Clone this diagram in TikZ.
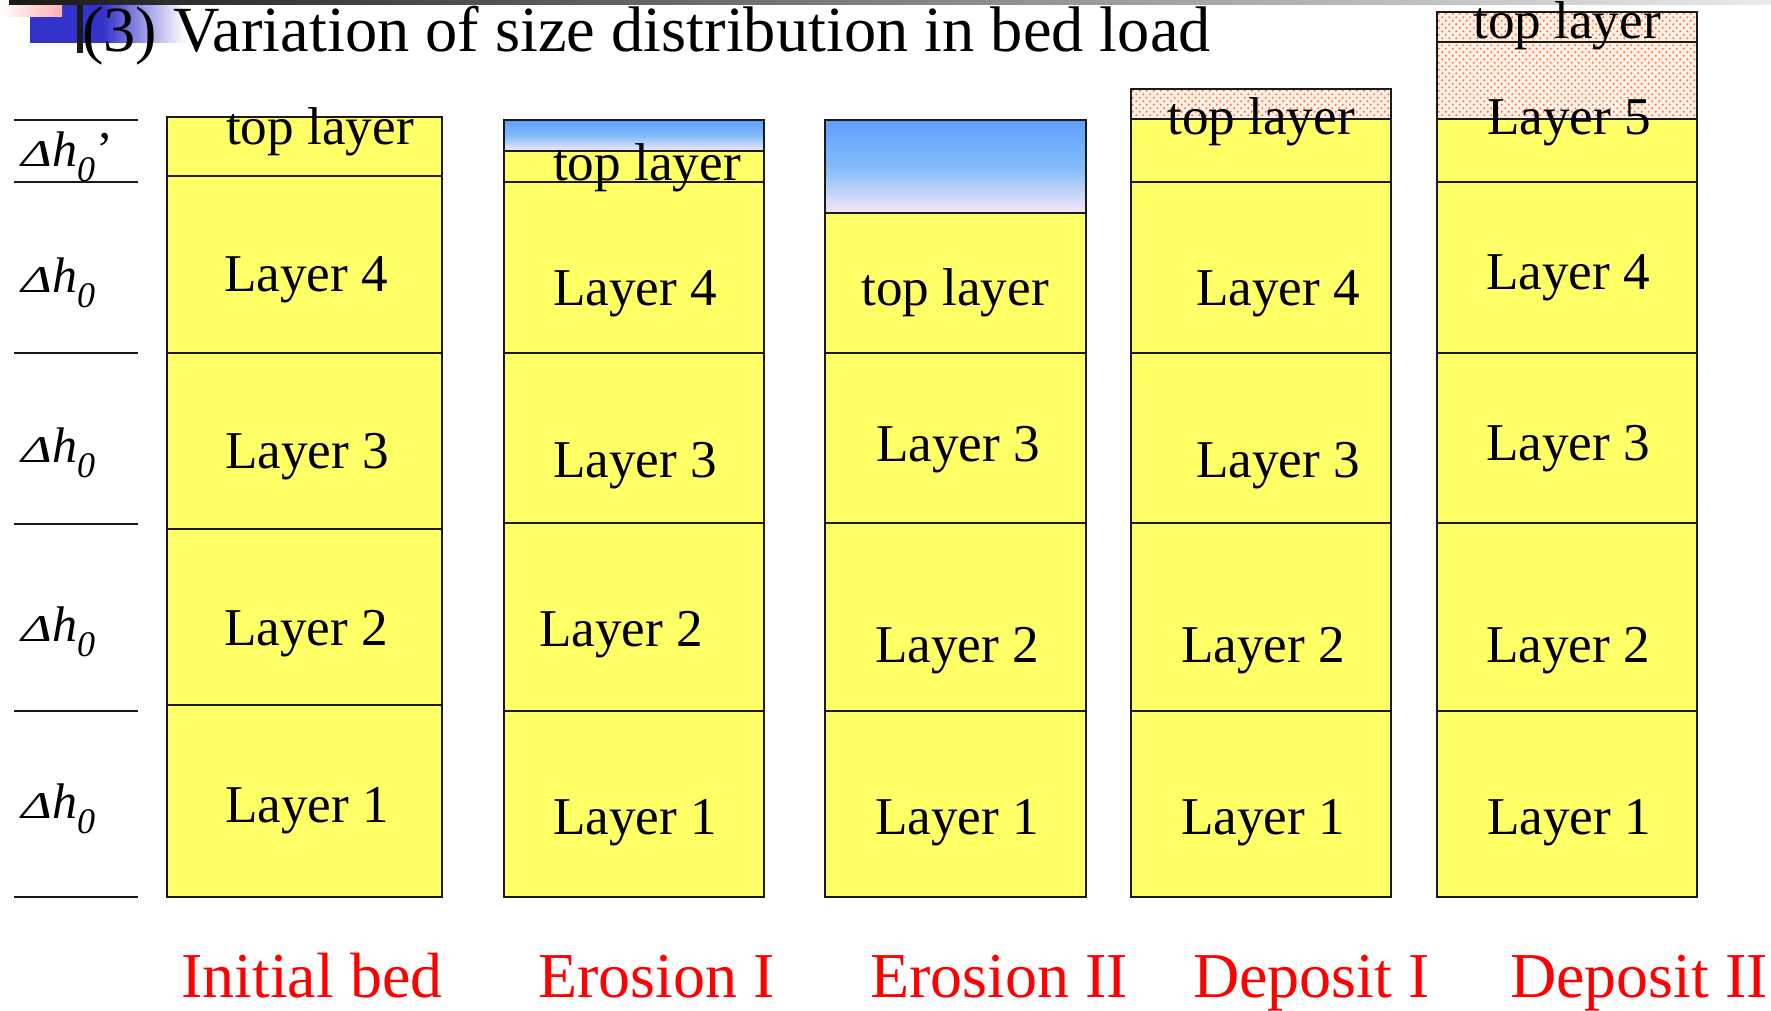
\documentclass[tikz,border=0pt]{standalone}
\usepackage{fontspec}
\setmainfont{Liberation Serif}
\definecolor{sand}{RGB}{255,255,102}
\definecolor{edge}{RGB}{26,26,26}
\definecolor{waterTop}{RGB}{96,158,255}
\definecolor{waterMid}{RGB}{128,188,250}
\definecolor{waterBot}{RGB}{246,232,246}
\definecolor{dotbgc}{RGB}{255,240,230}
\definecolor{dotfgc}{RGB}{255,120,56}
\definecolor{barblue}{RGB}{51,51,204}
\definecolor{barpink}{RGB}{255,176,176}
\definecolor{captionred}{RGB}{255,0,0}

\tikzset{
  sandfill/.style={fill=sand},
  frame/.style={draw=edge, line width=2pt},
  seam/.style={draw=edge, line width=1.5pt},
  scale line/.style={draw=edge, line width=1.8pt},
  water/.style={top color=waterTop, bottom color=waterBot, middle color=waterMid},
  dotbg/.style={fill=dotbgc},
  dotfg/.style={fill=dotfgc},
  layertext/.style={font=\fontsize{53.2}{53.2}\selectfont, anchor=base west, inner sep=0pt},
  caption/.style={font=\fontsize{64}{64}\selectfont, text=captionred, anchor=base west, inner sep=0pt},
  dhtext/.style={anchor=base west, inner sep=0pt},
}

% field of staggered orange dots inside a rectangle
\newcommand\dotfield[4]{%
  \begin{scope}
    \clip (#1,#2) rectangle (#3,#4);
    \fill[dotbg] (#1,#2) rectangle (#3,#4);
    \pgfmathtruncatemacro\nrow{((#4)-(#2))/3.5+1}
    \pgfmathtruncatemacro\ncol{((#3)-(#1))/7+1}
    \foreach \r in {0,...,\nrow}{
      \foreach \c in {0,...,\ncol}{
        \pgfmathsetmacro\dx{#1+1.75+7*\c+mod(\r,2)*3.5}
        \pgfmathsetmacro\dy{#2+1.75+3.5*\r}
        \fill[dotfg] (\dx,\dy) circle[radius=1.1];
      }
    }
  \end{scope}}

% thickness label: Delta h with subscript 0
\newcommand\dhlabel{{\itshape\fontsize{42}{42}\selectfont\scalebox{1.25}[0.9]{Δ}\fontsize{50}{50}\selectfont h\raisebox{-15pt}{\fontsize{36}{36}\selectfont 0}}}

\begin{document}
\begin{tikzpicture}[x=1pt,y=-1pt]
\useasboundingbox (0,0) rectangle (1771,1011);
\fill[white] (0,0) rectangle (1771,1011);

% ---- heading ornament ----
\fill[barblue] (30,5) rectangle (103,43);
\shade[left color=barblue, right color=white] (103,5) rectangle (185,43);
\shade[left color=white, right color=barpink] (0,0) rectangle (62,17);
\shade[left color=black!90, right color=black!8] (9,0) rectangle (1771,5);
\fill[edge] (77,5) rectangle (83,53);
\node[anchor=base west, inner sep=0pt, font=\fontsize{64.4}{64.4}\selectfont] (title) at (82,52)
  {(3) Variation of size distribution in bed load};

% ---- thickness scale on the left ----
\foreach \yy [count=\i] in {120,182,353,524,711,897}
  \draw[scale line] (14,\yy) coordinate (sl\i) -- (138,\yy) coordinate (sr\i);
\node[dhtext] (dhp) at (21,167) {\dhlabel{\fontsize{50}{50}\selectfont\kern1pt ’}};
\node[dhtext] (dh4) at (21,292) {\dhlabel};
\node[dhtext] (dh3) at (21,462) {\dhlabel};
\node[dhtext] (dh2) at (21,641) {\dhlabel};
\node[dhtext] (dh1) at (21,818) {\dhlabel};

% ---- Initial bed ----
\fill[sandfill] (167,117) rectangle (442,897);
\foreach \yy in {176,353,529,705} \draw[seam] (167,\yy) -- (442,\yy);
\draw[frame] (167,117) rectangle (442,897);
\node[layertext] (a5) at (226,145) {top layer};
\node[layertext] (a4) at (224,291) {Layer 4};
\node[layertext] (a3) at (225,468) {Layer 3};
\node[layertext] (a2) at (224,645) {Layer 2};
\node[layertext] (a1) at (225,822) {Layer 1};

% ---- Erosion I ----
\fill[sandfill] (504,151) rectangle (764,897);
\shade[water] (504,120) rectangle (764,151);
\foreach \yy in {151,182,353,523,711} \draw[seam] (504,\yy) -- (764,\yy);
\draw[frame] (504,120) rectangle (764,897);
\node[layertext] (b5) at (553,181) {top layer};
\node[layertext] (b4) at (553,305) {Layer 4};
\node[layertext] (b3) at (553,477) {Layer 3};
\node[layertext] (b2) at (539,646) {Layer 2};
\node[layertext] (b1) at (553,834) {Layer 1};

% ---- Erosion II ----
\fill[sandfill] (825,213) rectangle (1086,897);
\shade[water] (825,120) rectangle (1086,213);
\foreach \yy in {213,353,523,711} \draw[seam] (825,\yy) -- (1086,\yy);
\draw[frame] (825,120) rectangle (1086,897);
\node[layertext] (c4) at (861,305) {top layer};
\node[layertext] (c3) at (876,461) {Layer 3};
\node[layertext] (c2) at (875,662) {Layer 2};
\node[layertext] (c1) at (875,834) {Layer 1};

% ---- Deposit I ----
\fill[sandfill] (1131,119) rectangle (1391,897);
\dotfield{1131}{89}{1391}{119}
\foreach \yy in {119,182,353,523,711} \draw[seam] (1131,\yy) -- (1391,\yy);
\draw[frame] (1131,89) rectangle (1391,897);
\node[layertext] (d5) at (1167,135) {top layer};
\node[layertext] (d4) at (1196,305) {Layer 4};
\node[layertext] (d3) at (1196,477) {Layer 3};
\node[layertext] (d2) at (1181,662) {Layer 2};
\node[layertext] (d1) at (1181,834) {Layer 1};

% ---- Deposit II ----
\fill[sandfill] (1437,119) rectangle (1697,897);
\dotfield{1437}{12}{1697}{119}
\foreach \yy in {42,119,182,353,523,711} \draw[seam] (1437,\yy) -- (1697,\yy);
\draw[frame] (1437,12) rectangle (1697,897);
\node[layertext] (e6) at (1473,39) {top layer};
\node[layertext] (e5) at (1487,135) {Layer 5};
\node[layertext] (e4) at (1486,289) {Layer 4};
\node[layertext] (e3) at (1486,460) {Layer 3};
\node[layertext] (e2) at (1486,662) {Layer 2};
\node[layertext] (e1) at (1487,834) {Layer 1};

% ---- stage captions ----
\node[caption] (capA) at (181,997) {Initial bed};
\node[caption] (capB) at (538,997) {Erosion I};
\node[caption] (capC) at (870,997) {Erosion II};
\node[caption] (capD) at (1193,997) {Deposit I};
\node[caption] (capE) at (1510,997) {Deposit II};
\end{tikzpicture}
\end{document}
